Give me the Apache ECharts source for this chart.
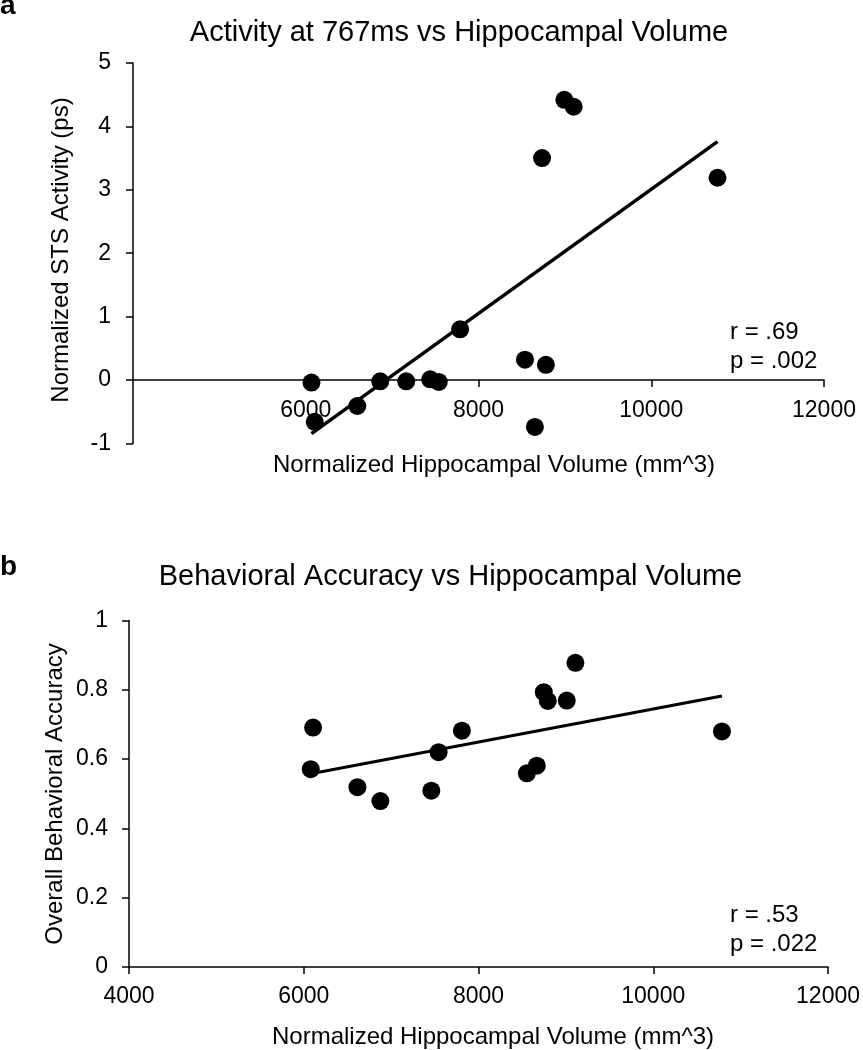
<!DOCTYPE html>
<html><head><meta charset="utf-8">
<script src="https://cdn.jsdelivr.net/npm/echarts@6/dist/echarts.min.js"></script>
<style>html,body{margin:0;padding:0;background:#fff}#c{width:863px;height:1050px}</style>
</head><body><div id="c"></div>
<script>
// Panel a: STS activity vs hippocampal volume
const volumeA = [6066, 6104, 6597, 6862, 7163, 7441, 7540, 7787, 8538, 8653, 8780, 8736, 8994, 9102, 10767];
const activityA = [-0.04, -0.66, -0.41, -0.02, -0.02, 0.01, -0.03, 0.80, 0.32, -0.74, 0.24, 3.50, 4.42, 4.31, 3.19];
// Panel b: behavioral accuracy vs hippocampal volume
const volumeB = [6080, 6107, 6614, 6877, 7460, 7543, 7810, 8553, 8667, 8747, 8793, 9010, 9109, 10786];
const accuracyB = [0.571, 0.691, 0.519, 0.479, 0.509, 0.620, 0.682, 0.559, 0.581, 0.793, 0.768, 0.769, 0.878, 0.680];

const titleA = 'Activity at 767ms vs Hippocampal Volume';
const titleB = 'Behavioral Accuracy vs Hippocampal Volume';
const xTitle = 'Normalized Hippocampal Volume (mm^3)';
const yTitleA = 'Normalized STS Activity (ps)';
const yTitleB = 'Overall Behavioral Accuracy';
const statsA = ['r = .69', 'p = .002'];
const statsB = ['r = .53', 'p = .022'];

function fit(xs, ys) {
  const n = xs.length;
  const mx = xs.reduce((a, b) => a + b, 0) / n;
  const my = ys.reduce((a, b) => a + b, 0) / n;
  let sxy = 0, sxx = 0;
  for (let i = 0; i < n; i++) { sxy += (xs[i] - mx) * (ys[i] - my); sxx += (xs[i] - mx) ** 2; }
  const b = sxy / sxx, a = my - b * mx;
  const x0 = Math.min(...xs), x1 = Math.max(...xs);
  return [[x0, a + b * x0], [x1, a + b * x1]];
}
const pts = (xs, ys) => xs.map((x, i) => [x, ys[i]]);

const FONT = "'Liberation Sans', Arial, sans-serif";
const INK = '#000';
const plain = v => String(v);
const axisCommon = {
  axisLine: { lineStyle: { color: INK, width: 1.5 } },
  axisTick: { show: true, inside: false, length: 7, lineStyle: { color: INK, width: 1.5 } },
  splitLine: { show: false },
  axisLabel: { color: INK, fontFamily: FONT, fontSize: 23, formatter: plain }
};

// grid A: y from -1 to 5 over 380.4 px -> zero line sits 63.4 px above grid bottom
const gridA = { left: 133, top: 63, width: 691, height: 380.4 };
const yMinA = -1, yMaxA = 5;
const zeroOffsetA = -gridA.height * (0 - yMinA) / (yMaxA - yMinA);

const chart = echarts.init(document.getElementById('c'), null, { renderer: 'canvas' });
const txt = (x, y, text, opts) => ({
  type: 'text', x, y, rotation: opts.rotation || 0,
  style: Object.assign({ text, fill: INK, font: (opts.weight || 'normal') + ' ' + opts.size + 'px ' + FONT,
    align: opts.align || 'center', verticalAlign: 'middle' })
});

chart.setOption({
  animation: false,
  backgroundColor: '#fff',
  grid: [
    gridA,
    { left: 129, top: 620.5, width: 700, height: 346.5 }
  ],
  xAxis: [
    Object.assign({}, axisCommon, { type: 'value', gridIndex: 0, min: 4000, max: 12000, interval: 2000,
      position: 'bottom', offset: zeroOffsetA,
      axisLine: { onZero: false, lineStyle: { color: INK, width: 1.5 } },
      axisLabel: Object.assign({}, axisCommon.axisLabel, { margin: 19, showMinLabel: false }) }),
    Object.assign({}, axisCommon, { type: 'value', gridIndex: 1, min: 4000, max: 12000, interval: 2000,
      axisLabel: Object.assign({}, axisCommon.axisLabel, { margin: 18 }) })
  ],
  yAxis: [
    Object.assign({}, axisCommon, { type: 'value', gridIndex: 0, min: yMinA, max: yMaxA, interval: 1,
      axisLine: { show: true, onZero: false, lineStyle: { color: INK, width: 1.5 } },
      axisLabel: Object.assign({}, axisCommon.axisLabel, { margin: 22 }) }),
    Object.assign({}, axisCommon, { type: 'value', gridIndex: 1, min: 0, max: 1, interval: 0.2,
      axisLine: { show: true, onZero: false, lineStyle: { color: INK, width: 1.5 } },
      axisLabel: Object.assign({}, axisCommon.axisLabel, { margin: 21 }) })
  ],
  series: [
    { type: 'scatter', xAxisIndex: 0, yAxisIndex: 0, data: pts(volumeA, activityA), symbolSize: 18,
      itemStyle: { color: '#000', opacity: 1 }, z: 3 },
    { type: 'line', xAxisIndex: 0, yAxisIndex: 0, data: fit(volumeA, activityA), symbol: 'none',
      lineStyle: { color: '#000', width: 3.5 }, z: 4 },
    { type: 'scatter', xAxisIndex: 1, yAxisIndex: 1, data: pts(volumeB, accuracyB), symbolSize: 18,
      itemStyle: { color: '#000', opacity: 1 }, z: 3 },
    { type: 'line', xAxisIndex: 1, yAxisIndex: 1, data: fit(volumeB, accuracyB), symbol: 'none',
      lineStyle: { color: '#000', width: 3 }, z: 4 }
  ],
  graphic: [
    txt(0, 6, 'a', { size: 28, weight: 'bold', align: 'left' }),
    txt(0, 567, 'b', { size: 28, weight: 'bold', align: 'left' }),
    txt(459, 33, titleA, { size: 29 }),
    txt(450.5, 577, titleB, { size: 29 }),
    txt(494, 465, xTitle, { size: 24 }),
    txt(493, 1037, xTitle, { size: 24 }),
    txt(61, 250, yTitleA, { size: 24, rotation: Math.PI / 2 }),
    txt(55, 794, yTitleB, { size: 24, rotation: Math.PI / 2 }),
    txt(730, 332, statsA[0], { size: 24, align: 'left' }),
    txt(730, 361, statsA[1], { size: 24, align: 'left' }),
    txt(730, 915, statsB[0], { size: 24, align: 'left' }),
    txt(730, 944, statsB[1], { size: 24, align: 'left' })
  ]
});
</script>
</body></html>
